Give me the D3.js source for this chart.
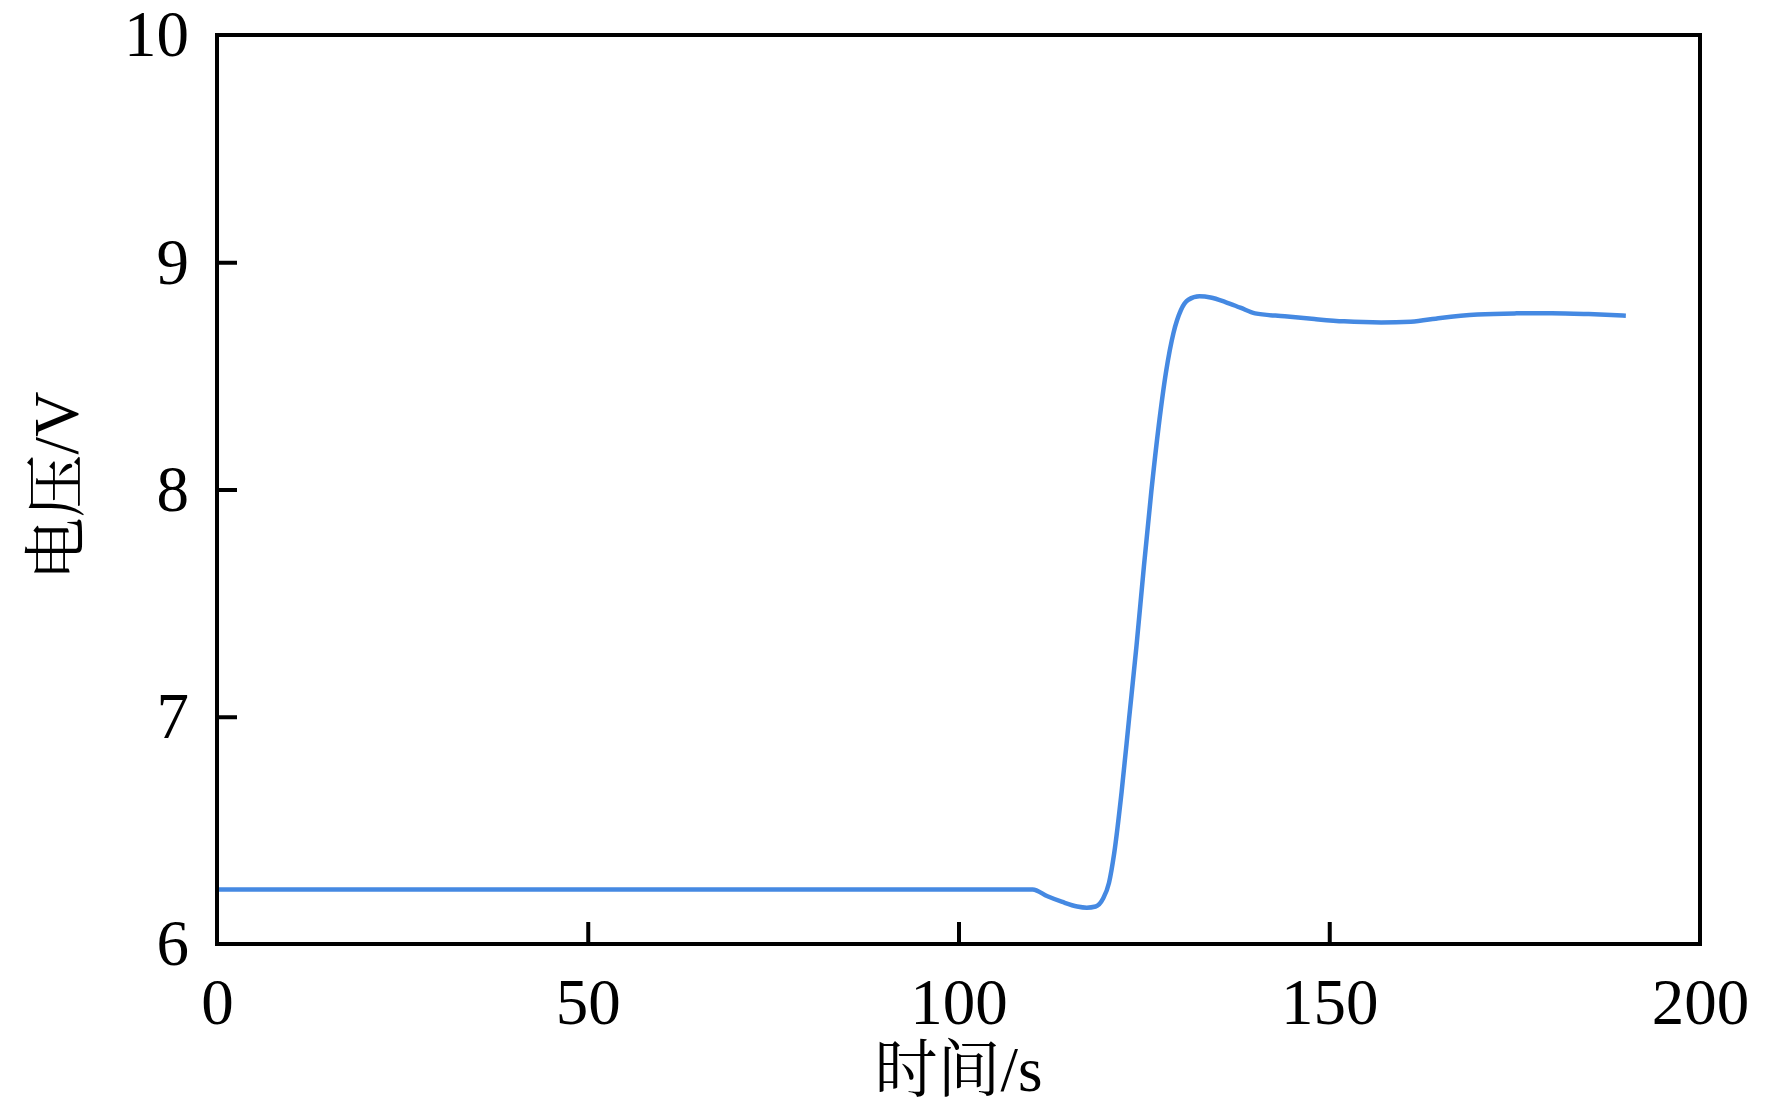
<!DOCTYPE html>
<html>
<head>
<meta charset="utf-8">
<script src="https://cdn.jsdelivr.net/npm/d3@7"></script>
<style>
  html, body { margin: 0; padding: 0; background: #fff; }
  svg { display: block; }
</style>
</head>
<body>
<svg id="chart" width="1772" height="1111"></svg>
<script>
// ---- data ----
const timeS = [0, 110, 112, 114, 116, 117.3, 118.5, 119.5, 120.3, 121, 122, 123, 124, 125, 126, 127, 128, 129, 130, 131, 132.5, 134, 136, 138, 140, 144, 148, 152, 157, 161, 165, 170, 175, 180, 185, 190];
const voltage = [6.24, 6.24, 6.21, 6.185, 6.165, 6.16, 6.165, 6.2, 6.27, 6.4, 6.67, 6.99, 7.31, 7.66, 7.99, 8.28, 8.52, 8.69, 8.79, 8.835, 8.85, 8.845, 8.825, 8.8, 8.775, 8.762, 8.75, 8.74, 8.735, 8.738, 8.755, 8.77, 8.775, 8.776, 8.772, 8.765];
const xTicks = [0, 50, 100, 150, 200];
const yTicks = [6, 7, 8, 9, 10];
const xLabel = "时间/s";
const yLabel = "电压/V";

// ---- layout ----
const mLeft = 217, mRight = 1700, mTop = 35, mBottom = 944;
const svg = d3.select("#chart");
const x = d3.scaleLinear().domain([0, 200]).range([mLeft, mRight]);
const y = d3.scaleLinear().domain([6, 10]).range([mBottom, mTop]);
const serif = "'Liberation Serif', 'Times New Roman', serif";
const labelFont = "'Liberation Serif', 'Noto Serif CJK SC', 'Noto Sans CJK SC', serif";

// line
const pts = timeS.map((t, i) => [t, voltage[i]]);
svg.append("path")
  .datum(pts)
  .attr("fill", "none")
  .attr("stroke", "#4589e2")
  .attr("stroke-width", 4.5)
  .attr("stroke-linejoin", "round")
  .attr("d", d3.line().x(d => x(d[0])).y(d => y(d[1])).curve(d3.curveMonotoneX));

// axes (inward ticks)
const xAxis = d3.axisBottom(x).tickValues(xTicks).tickSize(-22).tickPadding(34).tickFormat(d3.format("d"));
const yAxis = d3.axisLeft(y).tickValues(yTicks).tickSize(-20).tickPadding(28).tickFormat(d3.format("d"));

const gx = svg.append("g").attr("transform", `translate(0,${mBottom})`).call(xAxis);
const gy = svg.append("g").attr("transform", `translate(${mLeft},0)`).call(yAxis);
[gx, gy].forEach(g => {
  g.select(".domain").remove();
  g.selectAll(".tick line").attr("stroke", "#000").attr("stroke-width", 4);
  g.selectAll(".tick text").attr("fill", "#000").style("font-family", serif).style("font-size", "65px");
});
gx.selectAll(".tick text").attr("dy", "0.71em");
gx.selectAll(".tick").filter(d => d === 0 || d === 200).select("line").remove();
gy.selectAll(".tick").filter(d => d === 6 || d === 10).select("line").remove();

// frame
svg.append("rect")
  .attr("x", mLeft).attr("y", mTop)
  .attr("width", mRight - mLeft).attr("height", mBottom - mTop)
  .attr("fill", "none").attr("stroke", "#000").attr("stroke-width", 4);

// axis labels
svg.append("text")
  .attr("x", (mLeft + mRight) / 2).attr("y", 1091)
  .attr("text-anchor", "middle")
  .style("font-family", labelFont).style("font-size", "63px")
  .attr("fill", "#000")
  .text(xLabel);

svg.append("text")
  .attr("transform", "translate(78,486) rotate(-90)")
  .attr("text-anchor", "middle")
  .style("font-family", labelFont).style("font-size", "63px")
  .attr("fill", "#000")
  .text(yLabel);
</script>
</body>
</html>
